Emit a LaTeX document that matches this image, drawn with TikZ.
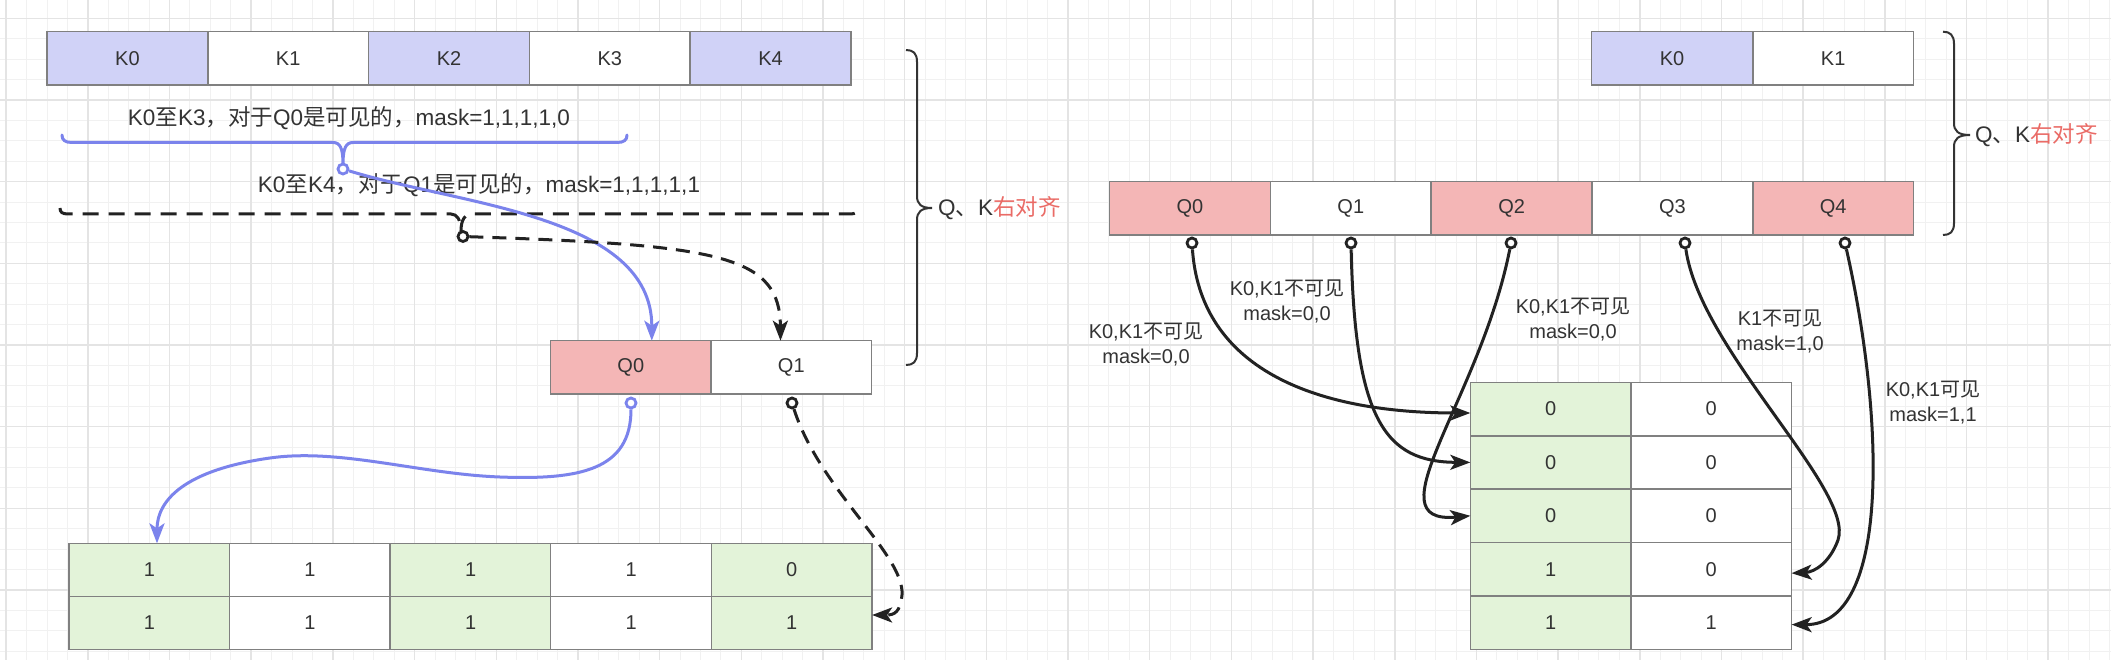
\documentclass[tikz,border=0pt]{standalone}
\usepackage{fontspec}
\setmainfont{Liberation Sans}
\newfontfamily\cjkf{Noto Sans CJK SC}
\newcommand{\zh}[1]{{\cjkf #1}}
\usetikzlibrary{arrows.meta}
\definecolor{txt}{HTML}{333333}
\definecolor{kfill}{HTML}{D0D2F7}
\definecolor{qfill}{HTML}{F4B6B6}
\definecolor{gfill}{HTML}{E3F3D9}
\definecolor{bord}{HTML}{808080}
\definecolor{blu}{HTML}{7B83EC}
\definecolor{ink}{HTML}{222222}
\definecolor{ink2}{HTML}{333333}
\definecolor{redt}{HTML}{EA6B66}
\definecolor{gmin}{HTML}{F1F1F1}
\definecolor{gmaj}{HTML}{E4E4E4}
\begin{document}
\begin{tikzpicture}[x=1pt,y=-1pt,
  cell/.style={draw=bord,line width=1.5pt,minimum width=160.8pt,minimum height=53.3pt,inner sep=0pt,outer sep=0pt,text=txt,font=\fontsize{20}{24}\selectfont},
  kc/.style={cell,fill=kfill}, wc/.style={cell,fill=white},
  qc/.style={cell,fill=qfill}, gc/.style={cell,fill=gfill},
  lbl/.style={text=txt,font=\fontsize{20}{25}\selectfont,inner sep=0pt,align=center},
  big/.style={text=txt,font=\fontsize{22.5}{26}\selectfont,inner sep=0pt},
  ringmark/.style={circle,draw=#1,fill=white,line width=2.8pt,minimum size=10pt,inner sep=0pt},
  conn/.style={line width=3pt,ink,-{Stealth[length=20pt,width=15pt,inset=5pt]}},
  bconn/.style={line width=3pt,blu,-{Stealth[length=20pt,width=15pt,inset=5pt]}},
  dconn/.style={line width=3pt,ink,dash pattern=on 14pt off 9pt,-{Stealth[length=20pt,width=15pt,inset=5pt]}},
]
\useasboundingbox (0,0) rectangle (2111,660);
\fill[white] (0,0) rectangle (2111,660);
% grid
\foreach \i in {0,...,103} {\draw[gmin,line width=1pt] ({6.2+20.42*\i},0) -- ++(0,660);}
\foreach \j in {0,...,33} {\draw[gmin,line width=1pt] (0,{-2.12+20.42*\j}) -- ++(2111,0);}
\foreach \i in {0,...,25} {\draw[gmaj,line width=1.5pt] ({6.2+81.68*\i},0) -- ++(0,660);}
\foreach \j in {0,...,8} {\draw[gmaj,line width=1.5pt] (0,{18.3+81.68*\j}) -- ++(2111,0);}

% ---------- left part ----------
\node[kc] (kL0) at (127.4,58.35) {K0};
\node[wc] (kL1) at (288.2,58.35) {K1};
\node[kc] (kL2) at (449.0,58.35) {K2};
\node[wc] (kL3) at (609.8,58.35) {K3};
\node[kc] (kL4) at (770.6,58.35) {K4};

\node[qc] (qL0) at (630.8,367.35) {Q0};
\node[wc] (qL1) at (791.3,367.35) {Q1};

\node[gc] (tA0) at (149.5,570) {1};
\node[wc] (tA1) at (310.0,570) {1};
\node[gc] (tA2) at (470.6,570) {1};
\node[wc] (tA3) at (631.1,570) {1};
\node[gc] (tA4) at (791.7,570) {0};
\node[gc] (tB0) at (149.5,623) {1};
\node[wc] (tB1) at (310.0,623) {1};
\node[gc] (tB2) at (470.6,623) {1};
\node[wc] (tB3) at (631.1,623) {1};
\node[gc] (tB4) at (791.7,623) {1};

\node[big] (txt1) at (349,118) {K0\zh{至}K3\zh{，对于}Q0\zh{是可见的，}mask=1,1,1,1,0};
\node[big] (txt2) at (479,185) {K0\zh{至}K4\zh{，对于}Q1\zh{是可见的，}mask=1,1,1,1,1};

% blue brace
\draw[blu,line width=3pt,line cap=round] (62,135) .. controls (62,140) and (65,142.5) .. (72,142.5) -- (333,142.5) .. controls (340,142.5) and (343,148) .. (343,164) .. controls (343,148) and (346,142.5) .. (353,142.5) -- (617,142.5) .. controls (624,142.5) and (627,140) .. (627,135);
% dashed brace
\draw[ink,line width=3pt,dash pattern=on 16pt off 10pt] (60,208) .. controls (60,212) and (62,214) .. (68,214) -- (451,214) .. controls (457,214) and (461,220) .. (461,231) .. controls (461,220) and (465,214) .. (471,214) -- (850,214) .. controls (856,214) and (858,212) .. (858,208);

% right curly brace with label (left part)
\draw[ink2,line width=2pt] (906,50) .. controls (913,50) and (917,53) .. (917,62) -- (917,196) .. controls (917,204) and (921,208) .. (932,208) .. controls (921,208) and (917,212) .. (917,220) -- (917,353) .. controls (917,362) and (913,365) .. (906,365);
\node[big,anchor=west] (qkL) at (938,208) {Q\zh{、}K\textcolor{redt}{\zh{右对齐}}};

% circles
\node[ringmark=blu] (cb1) at (343,169) {};
\node[ringmark=ink] (cd1) at (463,236.5) {};
\node[ringmark=blu] (cb2) at (631,403) {};
\node[ringmark=ink] (cd2) at (792,403) {};

\draw[bconn] (cb1) .. controls (460,205) and (652,215) .. ([xshift=21pt]qL0.north);
\draw[dconn] (cd1) .. controls (720,245) and (780,255) .. ([xshift=-10.8pt]qL1.north);
\draw[bconn] (cb2) .. controls (631,470) and (580,480) .. (500,477) .. controls (420,474) and (340,448) .. (270,458) .. controls (185,470) and (157,500) .. ([xshift=7.5pt]tA0.north);
\draw[dconn] (cd2) .. controls (820,490) and (905,555) .. (902,595) .. controls (900,612) and (895,615) .. ([yshift=8pt]tB4.east);

% ---------- right part ----------
\node[kc] (kR0) at (1672.0,58.35) {K0};
\node[wc] (kR1) at (1833.2,58.35) {K1};

\node[qc] (qR0) at (1190.0,208.35) {Q0};
\node[wc] (qR1) at (1350.8,208.35) {Q1};
\node[qc] (qR2) at (1511.6,208.35) {Q2};
\node[wc] (qR3) at (1672.4,208.35) {Q3};
\node[qc] (qR4) at (1833.2,208.35) {Q4};

\node[gc] (r0a) at (1550.7,409.0) {0};
\node[wc] (r0b) at (1711.2,409.0) {0};
\node[gc] (r1a) at (1550.7,462.4) {0};
\node[wc] (r1b) at (1711.2,462.4) {0};
\node[gc] (r2a) at (1550.7,515.8) {0};
\node[wc] (r2b) at (1711.2,515.8) {0};
\node[gc] (r3a) at (1550.7,569.2) {1};
\node[wc] (r3b) at (1711.2,569.2) {0};
\node[gc] (r4a) at (1550.7,622.6) {1};
\node[wc] (r4b) at (1711.2,622.6) {1};

\draw[ink2,line width=2pt] (1943,31.7) .. controls (1950,31.7) and (1954,35) .. (1954,44) -- (1954,123) .. controls (1954,131) and (1958,135) .. (1970,135) .. controls (1958,135) and (1954,139) .. (1954,147) -- (1954,223) .. controls (1954,232) and (1950,235) .. (1943,235);
\node[big,anchor=west] (qkR) at (1975,135) {Q\zh{、}K\textcolor{redt}{\zh{右对齐}}};

\node[ringmark=ink] (s0) at (1192,243) {};
\node[ringmark=ink] (s1) at (1351,243) {};
\node[ringmark=ink] (s2) at (1511,243) {};
\node[ringmark=ink] (s3) at (1685,243) {};
\node[ringmark=ink] (s4) at (1845,243) {};

\draw[conn] (s0) .. controls (1200,360) and (1300,413) .. ([yshift=-4pt]r0a.west);
\draw[conn] (s1) .. controls (1355,420) and (1385,462) .. (r1a.west);
\draw[conn] (s2) .. controls (1480,400) and (1370,525) .. (r2a.west);
\draw[conn] (s3) .. controls (1700,350) and (1855,490) .. (1838,540) .. controls (1830,562) and (1815,572) .. ([yshift=-4pt]r3b.east);
\draw[conn] (s4) .. controls (1885,420) and (1890,625) .. ([yshift=-2pt]r4b.east);

\node[lbl] (l0) at (1146,344) {K0,K1\zh{不可见}\\mask=0,0};
\node[lbl] (l1) at (1287,301.7) {K0,K1\zh{不可见}\\mask=0,0};
\node[lbl] (l2) at (1573,319) {K0,K1\zh{不可见}\\mask=0,0};
\node[lbl] (l3) at (1780,331.3) {K1\zh{不可见}\\mask=1,0};
\node[lbl] (l4) at (1933,402) {K0,K1\zh{可见}\\mask=1,1};
\end{tikzpicture}
\end{document}
